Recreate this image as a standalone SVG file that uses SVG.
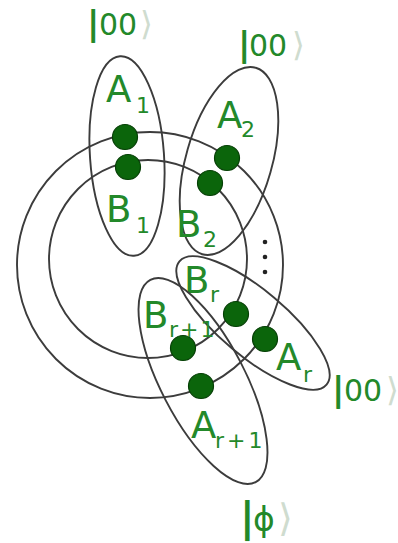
<svg xmlns="http://www.w3.org/2000/svg" width="398" height="543" viewBox="0 0 398 543">
<style>
.ring{fill:none;stroke:#3c3c3c;stroke-width:1.9}
.dot{fill:#0b650b;stroke:#053f05;stroke-width:1.2}
.lab{font-family:"DejaVu Sans","Liberation Sans",sans-serif;font-size:37px;fill:#23892a}
.sub{font-size:22px}
.ket{font-family:"DejaVu Sans","Liberation Sans",sans-serif;font-size:30px;fill:#23892a}
.bar{font-weight:bold;font-size:34px}
.ang{fill:#cfdccf;font-size:33px}
.ell{fill:#222}
</style>
<rect width="398" height="543" fill="#ffffff"/>
<g id="connectors">
  <circle class="ring" cx="150" cy="265" r="133"/>
  <circle class="ring" cx="148" cy="259" r="99"/>
</g>
<g id="pair1">
  <ellipse class="ring" cx="127" cy="156" rx="37" ry="100" transform="rotate(-4 127 156)"/>
  <circle class="dot" cx="125" cy="137" r="12.5"/>
  <circle class="dot" cx="128" cy="167" r="12.5"/>
  <text class="lab" x="106" y="102">A<tspan class="sub" x="136" y="113">1</tspan></text>
  <text class="lab" x="106" y="222">B<tspan class="sub" x="136" y="233">1</tspan></text>
</g>
<g id="pair2">
  <ellipse class="ring" cx="229" cy="161" rx="43" ry="97" transform="rotate(16 229 161)"/>
  <circle class="dot" cx="227" cy="158" r="12.5"/>
  <circle class="dot" cx="210" cy="183" r="12.5"/>
  <text class="lab" x="217" y="128">A<tspan class="sub" x="241" y="137">2</tspan></text>
  <text class="lab" x="176" y="237">B<tspan class="sub" x="203" y="247">2</tspan></text>
</g>
<g id="pairR">
  <ellipse class="ring" cx="253" cy="323" rx="96" ry="33" transform="rotate(40 253 323)"/>
  <circle class="dot" cx="236" cy="314" r="12.5"/>
  <circle class="dot" cx="265" cy="339" r="12.5"/>
  <text class="lab" x="184" y="293">B<tspan class="sub" x="210" y="302">r</tspan></text>
  <text class="lab" x="276" y="370">A<tspan class="sub" x="303" y="382">r</tspan></text>
</g>
<g id="pairR1">
  <ellipse class="ring" cx="203" cy="381" rx="42" ry="114" transform="rotate(-27.5 203 381)"/>
  <circle class="dot" cx="183" cy="348" r="12.5"/>
  <circle class="dot" cx="201" cy="386" r="12.5"/>
  <text class="lab" x="143" y="328">B<tspan class="sub" x="169" y="337" letter-spacing="2">r+1</tspan></text>
  <text class="lab" x="191" y="438">A<tspan class="sub" x="215" y="448" letter-spacing="3">r+1</tspan></text>
</g>
<g id="vdots">
  <circle class="ell" cx="265" cy="242" r="2.3"/>
  <circle class="ell" cx="265" cy="257" r="2.3"/>
  <circle class="ell" cx="265" cy="272" r="2.3"/>
</g>
<g id="kets">
  <text class="ket" y="35"><tspan class="bar" x="87">|</tspan><tspan x="99">00</tspan><tspan class="ang" x="140">⟩</tspan></text>
  <text class="ket" y="56"><tspan class="bar" x="238">|</tspan><tspan x="249">00</tspan><tspan class="ang" x="292">⟩</tspan></text>
  <text class="ket" y="401"><tspan class="bar" x="332">|</tspan><tspan x="344">00</tspan><tspan class="ang" x="386">⟩</tspan></text>
  <text class="ket" y="531"><tspan class="bar" x="240" style="font-size:40px">|</tspan><tspan x="253" style="font-size:33px">ϕ</tspan><tspan class="ang" x="278" style="font-size:38px">⟩</tspan></text>
</g>
</svg>
